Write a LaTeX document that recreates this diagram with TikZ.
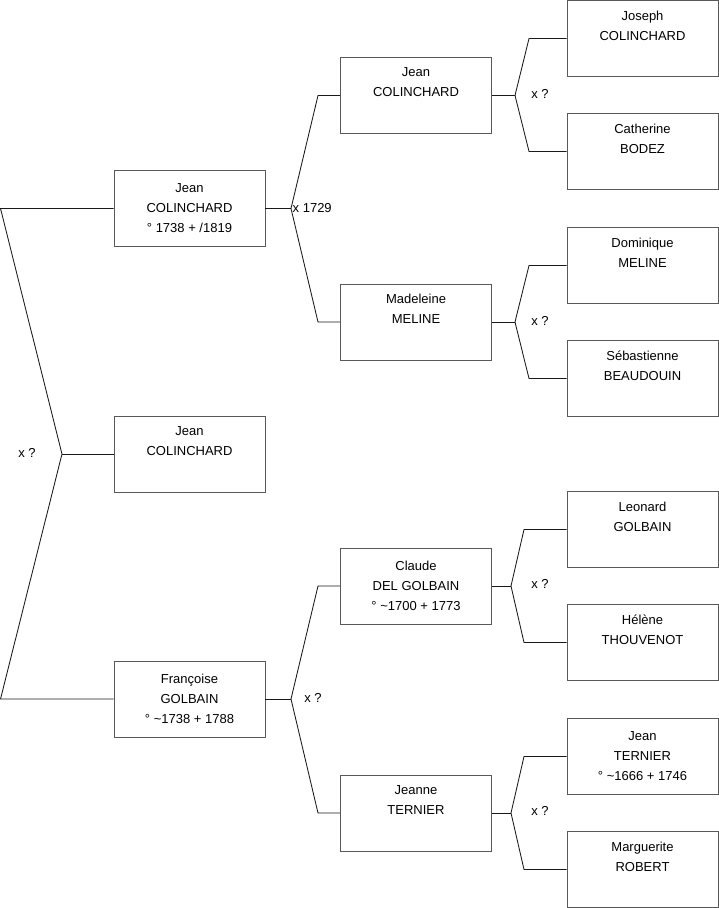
\documentclass[tikz,border=0pt]{standalone}
\usepackage{fontspec}
\setmainfont{Liberation Sans}
\usetikzlibrary{positioning}

\begin{document}
\begin{tikzpicture}[
  x=1pt,y=-1pt,
  every node/.style={font=\fontsize{13}{20}\selectfont},
  person/.style={draw=black!65,line width=0.9pt,align=center,
    minimum width=151pt,minimum height=76pt,inner sep=0pt},
  link/.style={draw=black!90,line width=0.85pt},
  union/.style={inner sep=1pt}
]
  \useasboundingbox (0,-0.5) rectangle (719,907.5);

  % generation 1
  \node[person] (p1) at (189.5,208) {Jean\\COLINCHARD\\° 1738 + /1819};
  \node[person] (p2) at (189.5,453.5) {Jean\\COLINCHARD\\\strut};
  \node[person] (p3) at (189.5,698.5) {Françoise\\GOLBAIN\\° \textasciitilde1738 + 1788};

  % generation 2
  \node[person] (f1) at (416,95) {Jean\\COLINCHARD\\\strut};
  \node[person] (m1) at (416,321.5) {Madeleine\\MELINE\\\strut};
  \node[person] (f3) at (416,585.5) {Claude\\DEL GOLBAIN\\° \textasciitilde1700 + 1773};
  \node[person] (m3) at (416,812.5) {Jeanne\\TERNIER\\\strut};

  % generation 3
  \node[person] (ff1) at (642.5,38) {Joseph\\COLINCHARD\\\strut};
  \node[person] (fm1) at (642.5,151) {Catherine\\BODEZ\\\strut};
  \node[person] (mf1) at (642.5,265) {Dominique\\MELINE\\\strut};
  \node[person] (mm1) at (642.5,378) {Sébastienne\\BEAUDOUIN\\\strut};
  \node[person] (ff3) at (642.5,529) {Leonard\\GOLBAIN\\\strut};
  \node[person] (fm3) at (642.5,642) {Hélène\\THOUVENOT\\\strut};
  \node[person] (mf3) at (642.5,756) {Jean\\TERNIER\\° \textasciitilde1666 + 1746};
  \node[person] (mm3) at (642.5,869) {Marguerite\\ROBERT\\\strut};

  % joints
  \coordinate (j0) at (62,453.5);
  \coordinate (j0a) at (0.5,208);
  \coordinate (j0b) at (0.5,698.5);
  \coordinate (j1) at (291,208);
  \coordinate (j1a) at (318,95);
  \coordinate (j1b) at (318,321.5);
  \coordinate (j3) at (291,698.5);
  \coordinate (j3a) at (318,585.5);
  \coordinate (j3b) at (318,812.5);
  \coordinate (k1) at (515,95);
  \coordinate (k1a) at (529,38);
  \coordinate (k1b) at (529,151);
  \coordinate (k2) at (515,321.5);
  \coordinate (k2a) at (529,265);
  \coordinate (k2b) at (529,378);
  \coordinate (k3) at (511,585.5);
  \coordinate (k3a) at (524,529);
  \coordinate (k3b) at (524,642);
  \coordinate (k4) at (511,812.5);
  \coordinate (k4a) at (524,756);
  \coordinate (k4b) at (524,869);

  % connectors
  \draw[link] (p1.west) -- (j0a) -- (j0) -- (j0b) -- (p3.west);
  \draw[link] (j0) -- (p2.west);
  \draw[link] (p1.east) -- (j1);
  \draw[link] (f1.west) -- (j1a) -- (j1) -- (j1b) -- (m1.west);
  \draw[link] (p3.east) -- (j3);
  \draw[link] (f3.west) -- (j3a) -- (j3) -- (j3b) -- (m3.west);
  \draw[link] (f1.east) -- (k1);
  \draw[link] (ff1.west) -- (k1a) -- (k1) -- (k1b) -- (fm1.west);
  \draw[link] (m1.east) -- (k2);
  \draw[link] (mf1.west) -- (k2a) -- (k2) -- (k2b) -- (mm1.west);
  \draw[link] (f3.east) -- (k3);
  \draw[link] (ff3.west) -- (k3a) -- (k3) -- (k3b) -- (fm3.west);
  \draw[link] (m3.east) -- (k4);
  \draw[link] (mf3.west) -- (k4a) -- (k4) -- (k4b) -- (mm3.west);

  % marriages
  \node[union] (u0) at (27,452) {x ?};
  \node[union,anchor=west] (u1) at (291.5,208) {x 1729};
  \node[union] (u3) at (313,697) {x ?};
  \node[union] (v1) at (540,93) {x ?};
  \node[union] (v2) at (540,320) {x ?};
  \node[union] (v3) at (540,583) {x ?};
  \node[union] (v4) at (540,810) {x ?};
\end{tikzpicture}
\end{document}
